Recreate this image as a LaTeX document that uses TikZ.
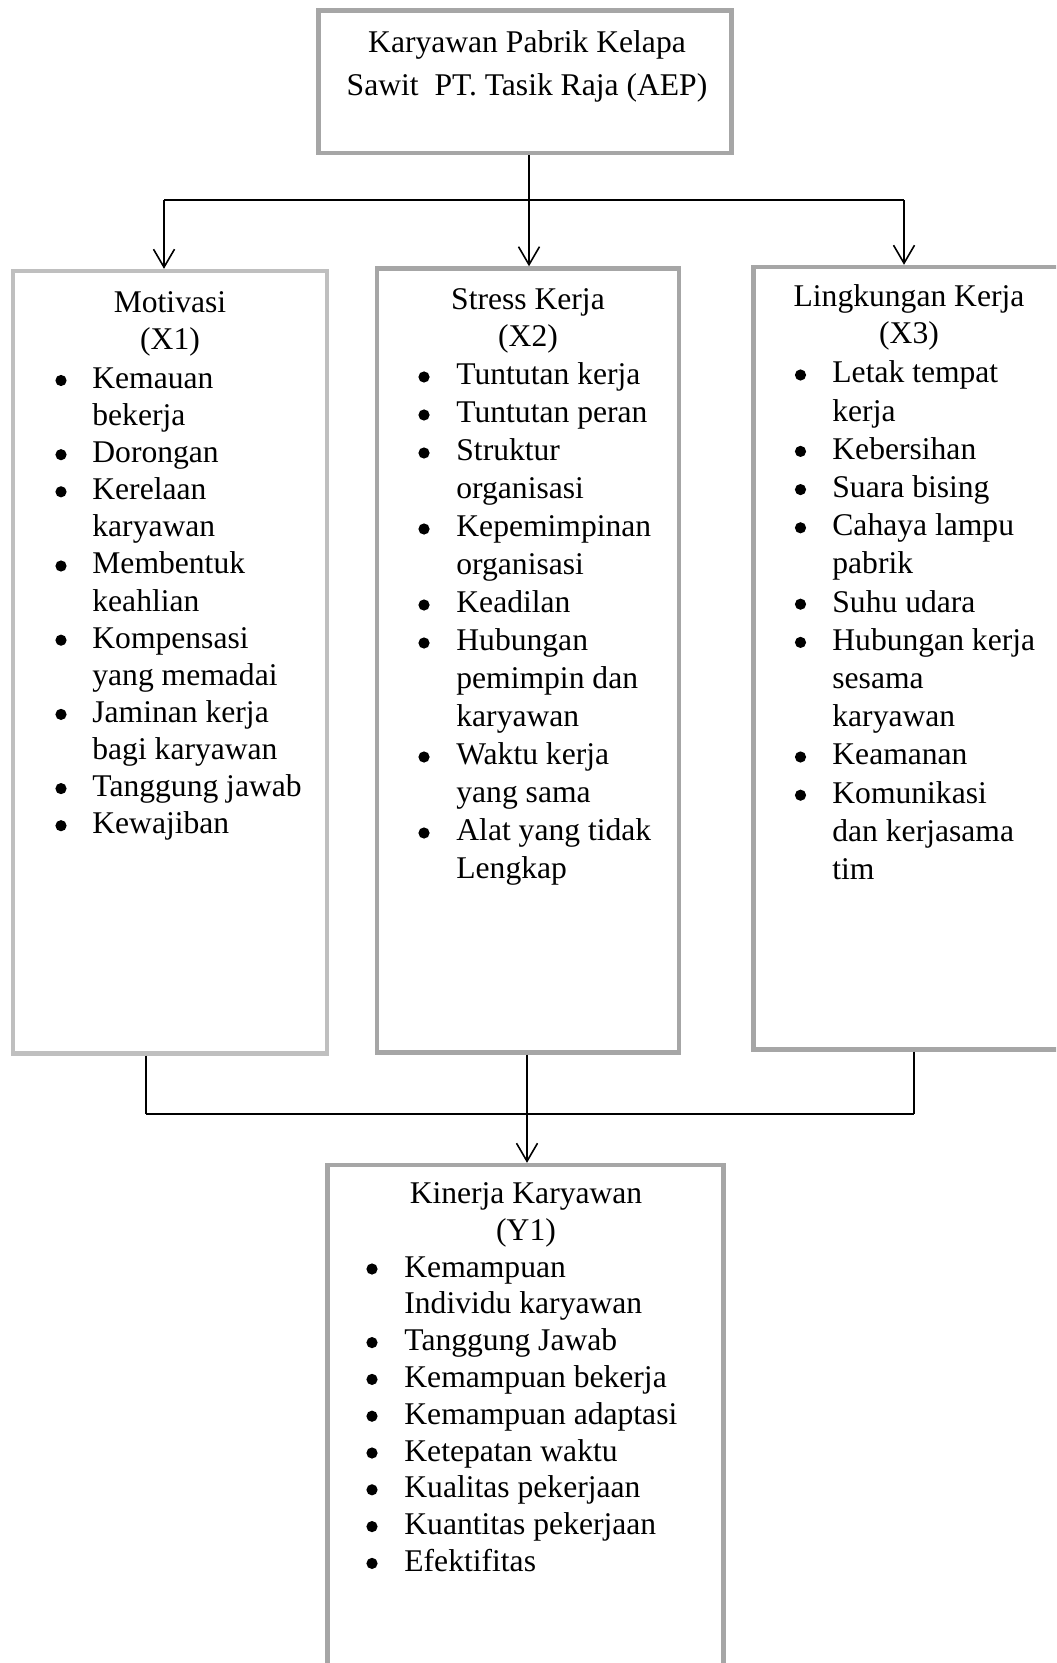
\documentclass[tikz,border=0pt]{standalone}
\usepackage{fontspec}
\setmainfont{Liberation Serif}
\usetikzlibrary{arrows.meta}
\definecolor{abuMuda}{HTML}{BFBFBF}
\definecolor{abuTua}{HTML}{A6A6A6}
\newcommand\daftar[1]{\begin{tabular}[t]{@{}l@{}}#1\end{tabular}}
\newcommand\judul[1]{\begin{tabular}[t]{@{}c@{}}#1\end{tabular}}

\begin{document}
\begin{tikzpicture}[x=0.5pt,y=-0.5pt,
    kotak/.style={draw=abuTua,line width=2.2pt,inner sep=0pt},
    garis/.style={line width=0.8pt},
    panah/.style={line width=0.8pt,-{Straight Barb[length=9pt,width=10.5pt]}},
    teks/.style={inner sep=0pt,font=\fontsize{15.8}{18.5}\selectfont}]
                \clip (0,0) rectangle (1056,1663);
                % kotak
                \node[kotak,minimum width=206.5pt,minimum height=71.25pt] (Top) at (525,81.75) {};
                \node[kotak,draw=abuMuda,minimum width=157pt,minimum height=391.25pt] (Mot) at (170,662.25) {};
                \node[kotak,minimum width=151pt,minimum height=392pt] (Str) at (528,660.5) {};
                \node[kotak,minimum width=158.25pt,minimum height=391.25pt] (Lin) at (911.75,658.25) {};
                \node[kotak,minimum width=198pt,minimum height=267.5pt] (Kin) at (525.5,1432.5) {};
                % judul
                \node[teks,anchor=base,font=\fontsize{15.8}{21.25}\selectfont] (TopJ) at (527,53)
                    {\judul{Karyawan Pabrik Kelapa\\Sawit\ \ PT. Tasik Raja (AEP)}};
                \node[teks,anchor=base] (MotJ) at (170,312.5) {\judul{Motivasi\\(X1)}};
                \node[teks,anchor=base] (StrJ) at (528,310) {\judul{Stress Kerja\\(X2)}};
                \node[teks,anchor=base] (LinJ) at (909,307) {\judul{Lingkungan Kerja\\(X3)}};
                \node[teks,anchor=base] (KinJ) at (526,1203) {\judul{Kinerja Karyawan\\(Y1)}};
                % daftar
                \node[teks,anchor=base west,font=\fontsize{15.8}{18.55}\selectfont] (MotD) at (92,388.5)
                    {\daftar{Kemauan\\bekerja\\Dorongan\\Kerelaan\\karyawan\\Membentuk\\keahlian\\
                    Kompensasi\\yang memadai\\Jaminan kerja\\bagi karyawan\\Tanggung jawab\\Kewajiban}};
                \node[teks,anchor=base west,font=\fontsize{15.8}{19}\selectfont] (StrD) at (456,385)
                    {\daftar{Tuntutan kerja\\Tuntutan peran\\Struktur\\organisasi\\Kepemimpinan\\organisasi\\
                    Keadilan\\Hubungan\\pemimpin dan\\karyawan\\Waktu kerja\\yang sama\\Alat yang tidak\\Lengkap}};
                \node[teks,anchor=base west,font=\fontsize{15.8}{19.1}\selectfont] (LinD) at (832,383)
                    {\daftar{Letak tempat\\kerja\\Kebersihan\\Suara bising\\Cahaya lampu\\pabrik\\Suhu udara\\
                    Hubungan kerja\\sesama\\karyawan\\Keamanan\\Komunikasi\\dan kerjasama\\tim}};
                \node[teks,anchor=base west,font=\fontsize{15.8}{18.4}\selectfont] (KinD) at (404,1277)
                    {\daftar{Kemampuan\\Individu karyawan\\Tanggung Jawab\\Kemampuan bekerja\\
                    Kemampuan adaptasi\\Ketepatan waktu\\Kualitas pekerjaan\\Kuantitas pekerjaan\\Efektifitas}};
                % bullet
                \foreach \i in {0,2,3,5,7,9,11,12} \fill (61,380.5+37.1*\i) circle (2.8pt);
                \foreach \i in {0,1,2,4,6,7,10,12} \fill (424,377+38*\i) circle (2.8pt);
                \foreach \i in {0,2,3,4,6,7,10,11} \fill (800.5,375+38.2*\i) circle (2.8pt);
                \foreach \i in {0,2,3,4,5,6,7,8} \fill (372,1269+36.8*\i) circle (2.8pt);
                % garis atas
                \coordinate (Tc) at (529,200);
                \coordinate (Tl) at (164,200);
                \coordinate (Tr) at (904,200);
                \draw[garis] (Top.south -| Tc) -- (Tc);
                \draw[garis,line width=1.1pt] (Tl) -- (Tr);
                \draw[panah] (Tl) -- (Tl |- Mot.north);
                \draw[panah] (Tc) -- (Tc |- Str.north);
                \draw[panah] (Tr) -- (Tr |- Lin.north);
                % garis bawah
                \coordinate (Bl) at (146,1114);
                \coordinate (Bc) at (527,1114);
                \coordinate (Br) at (914,1114);
                \draw[garis] (Mot.south -| Bl) -- (Bl);
                \draw[garis] (Lin.south -| Br) -- (Br);
                \draw[garis,line width=1.1pt] (Bl) -- (Br);
                \draw[panah] (Str.south -| Bc) -- (Bc |- Kin.north);
\end{tikzpicture}
\end{document}
